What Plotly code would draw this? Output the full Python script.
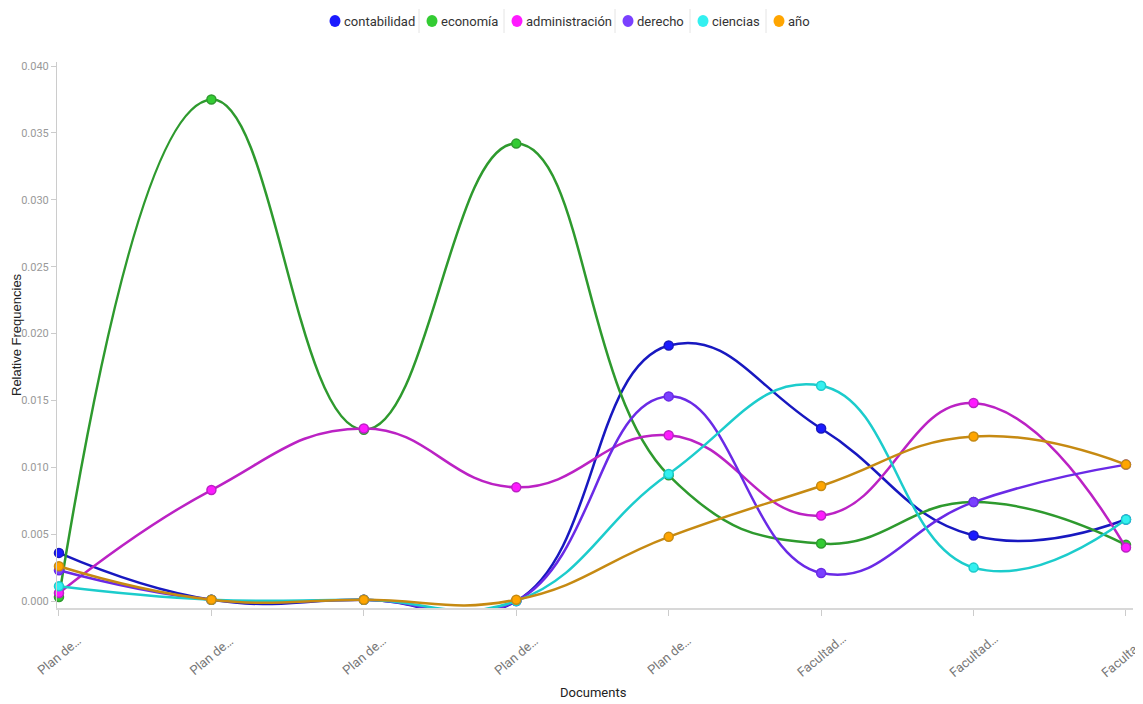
import plotly.graph_objects as go

doc_labels = ["Plan de…", "Plan de…", "Plan de…", "Plan de…", "Plan de…",
              "Facultad…", "Facultad…", "Facultad…"]
doc_index = list(range(len(doc_labels)))

series_names = ["contabilidad", "economía", "administración", "derecho", "ciencias", "año"]

contabilidad = [0.0036, 0.0001, 0.0001, 0.0000, 0.0191, 0.0129, 0.0049, 0.0061]
economia = [0.0003, 0.0375, 0.0128, 0.0342, 0.0094, 0.0043, 0.0074, 0.0042]
administracion = [0.0006, 0.0083, 0.0129, 0.0085, 0.0124, 0.0064, 0.0148, 0.0040]
derecho = [0.0023, 0.0001, 0.0001, 0.0000, 0.0153, 0.0021, 0.0074, 0.0102]
ciencias = [0.0011, 0.0001, 0.0001, 0.0000, 0.0095, 0.0161, 0.0025, 0.0061]
anio = [0.0026, 0.0001, 0.0001, 0.0001, 0.0048, 0.0086, 0.0123, 0.0102]

series_values = [contabilidad, economia, administracion, derecho, ciencias, anio]
line_colors = ["#1818c0", "#2e9a2e", "#bb22c4", "#6a2ae6", "#1ccccc", "#c68a12"]
fill_colors = ["#1a1aff", "#33cc33", "#ff1aff", "#7a40ff", "#33f0f0", "#ffa500"]

FONT = "Roboto, Liberation Sans, sans-serif"

# plot-area geometry (screen pixels) used to place the hand-made legend
PLOT_L, PLOT_W, PLOT_B, PLOT_H = 57, 1076, 608, 546
def px_x(p):
    return (p - PLOT_L) / PLOT_W
def px_y(p):
    return (PLOT_B - p) / PLOT_H

legend_dot_px = [335, 432, 517, 628, 703, 779]
legend_text_px = [343, 440, 525, 636, 711, 787]
legend_sep_px = [419, 504, 615, 690, 766]
legend_y_px = 21

fig = go.Figure()
for name, vals, lc, fc in zip(series_names, series_values, line_colors, fill_colors):
    fig.add_trace(go.Scatter(
        x=doc_index, y=vals, name=name, mode="lines+markers", showlegend=False,
        line=dict(color=lc, width=2.5, shape="spline", smoothing=1.3),
        marker=dict(color=fc, size=9, line=dict(color=lc, width=1.5)),
        cliponaxis=False,
    ))

shapes = []
annotations = []
ly = px_y(legend_y_px)
for name, fc, dpx, tpx in zip(series_names, fill_colors, legend_dot_px, legend_text_px):
    shapes.append(dict(type="circle", xref="paper", yref="paper",
                       xsizemode="pixel", ysizemode="pixel",
                       xanchor=px_x(dpx), yanchor=ly, x0=-5.5, x1=5.5, y0=-6, y1=6,
                       fillcolor=fc, line=dict(width=0)))
    annotations.append(dict(text=name, xref="paper", yref="paper", x=px_x(tpx), y=ly,
                            xanchor="left", yanchor="middle", showarrow=False,
                            xshift=-1, font=dict(family=FONT, size=13, color="#333")))
for spx in legend_sep_px:
    shapes.append(dict(type="line", xref="paper", yref="paper",
                       x0=px_x(spx), x1=px_x(spx), y0=px_y(legend_y_px + 12), y1=px_y(legend_y_px - 12),
                       line=dict(color="#e4e4e4", width=1)))

# x tick labels, centred under the ticks and rotated
for i, lab in zip(doc_index, doc_labels):
    annotations.append(dict(text=lab, xref="x", yref="paper", x=i, y=0, yshift=-47,
                            xanchor="center", yanchor="middle", textangle=-40, showarrow=False,
                            font=dict(family=FONT, size=13, color="#777")))

annotations.append(dict(text="Documents", xref="paper", yref="paper", x=px_x(593), y=px_y(693),
                        xanchor="center", yanchor="middle", showarrow=False,
                        font=dict(family=FONT, size=13, color="#222")))
annotations.append(dict(text="Relative Frequencies", xref="paper", yref="paper", x=px_x(16), y=px_y(335),
                        xanchor="center", yanchor="middle", textangle=-90, showarrow=False,
                        font=dict(family="Liberation Sans, Arial, sans-serif", size=13, color="#222")))

fig.update_layout(
    width=1143, height=704,
    paper_bgcolor="white", plot_bgcolor="white",
    margin=dict(l=49, r=18, t=54, b=104, autoexpand=False),
    showlegend=False,
    shapes=shapes,
    annotations=annotations,
    xaxis=dict(
        tickmode="array", tickvals=doc_index, showticklabels=False,
        range=[-0.013, 7.046], showgrid=False, zeroline=False,
        showline=True, linecolor="#d8d8d8", linewidth=2,
        ticks="outside", ticklen=6, tickcolor="#cccccc", automargin=False,
    ),
    yaxis=dict(
        range=[-0.00052, 0.0403], tickvals=[0, 0.005, 0.01, 0.015, 0.02, 0.025, 0.03, 0.035, 0.04],
        tickformat=".3f", showgrid=False, zeroline=False,
        showline=True, linecolor="#cccccc", linewidth=1,
        ticks="outside", ticklen=5, tickcolor="#cccccc", automargin=False,
        tickfont=dict(family=FONT, size=11, color="#999"),
    ),
)

fig.write_html("out.html")
